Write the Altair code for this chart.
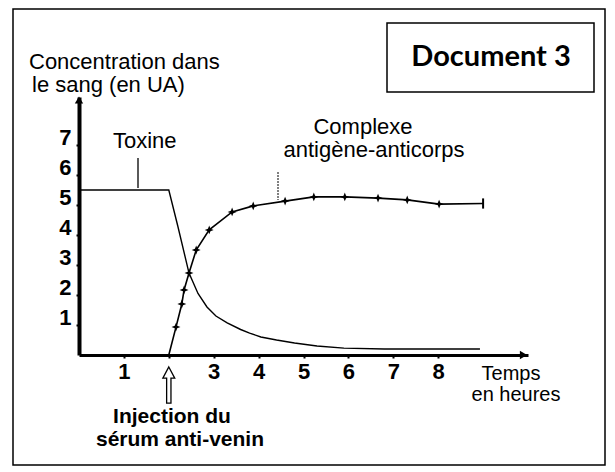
import altair as alt
import pandas as pd

# ---- data ----
tox_t = [0, 2.0, 2.2, 2.45, 2.65, 2.85, 3.05, 3.3, 3.6, 3.8, 4.05, 4.4, 4.8, 5.3, 5.9, 6.8, 7.5, 8.93]
tox_c = [5.5, 5.5, 4.3, 2.73, 2.05, 1.6, 1.3, 1.07, 0.85, 0.73, 0.6, 0.5, 0.4, 0.3, 0.23, 0.2, 0.2, 0.2]

cx_t = [2.0, 2.16, 2.29, 2.34, 2.45, 2.61, 2.90, 3.41, 3.88, 4.59, 5.23, 5.92, 6.66, 7.31, 8.02, 9.0]
cx_c = [0, 0.93, 1.7, 2.17, 2.73, 3.5, 4.17, 4.77, 4.97, 5.13, 5.27, 5.27, 5.23, 5.17, 5.03, 5.05]
cx_marked = [False] + [True] * 14 + [False]

x_ticks = [1, 2, 3, 4, 5, 6, 7, 8]
y_ticks = [1, 2, 3, 4, 5, 6, 7]
injection_time = 2

FONT = "Liberation Sans"
X_DOMAIN = [0, 10]
Y_DOMAIN = [0, 8.6]

tox = pd.DataFrame({"t": tox_t, "c": tox_c})
cx = pd.DataFrame({"t": cx_t, "c": cx_c, "m": cx_marked})
one = pd.DataFrame({"a": [0]})

x_enc = alt.X(
    "t:Q",
    scale=alt.Scale(domain=X_DOMAIN, nice=False, zero=False),
    axis=alt.Axis(
        values=x_ticks, title=None, grid=False,
        domainWidth=3, domainColor="black",
        tickColor="black", tickSize=3, tickWidth=2,
        labelFont=FONT, labelFontSize=22, labelFontWeight="bold",
        labelColor="black", labelPadding=3,
        labelExpr="datum.value == 2 ? '' : datum.label",
    ),
)
y_enc = alt.Y(
    "c:Q",
    scale=alt.Scale(domain=Y_DOMAIN, nice=False, zero=False),
    axis=alt.Axis(
        values=y_ticks, title=None, grid=False,
        domainWidth=4, domainColor="black",
        tickColor="black", tickSize=3, tickWidth=2,
        labelFont=FONT, labelFontSize=22, labelFontWeight="bold",
        labelColor="black", labelPadding=5, labelOffset=-8,
    ),
)

tox_line = alt.Chart(tox).mark_line(color="black", strokeWidth=1.4).encode(x=x_enc, y=y_enc)
cx_line = alt.Chart(cx).mark_line(color="black", strokeWidth=1.6).encode(x=x_enc, y=y_enc)

star = "M0,-1 L0.28,-0.28 L1,0 L0.28,0.28 L0,1 L-0.28,0.28 L-1,0 L-0.28,-0.28 Z"
cx_pts = alt.Chart(cx).transform_filter("datum.m").mark_point(
    shape=star, filled=True, color="black", size=80, opacity=1
).encode(x=x_enc, y=y_enc)

cx_end = alt.Chart(one).mark_rule(color="black", strokeWidth=2).encode(
    x=alt.datum(cx_t[-1]), y=alt.datum(cx_c[-1] - 0.17), y2=alt.datum(cx_c[-1] + 0.17)
)

y_arrow = alt.Chart(one).mark_point(shape="triangle-up", filled=True, color="black", size=70, opacity=1).encode(
    x=alt.datum(0), y=alt.datum(Y_DOMAIN[1] - 0.1)
)
x_arrow = alt.Chart(one).mark_point(shape="triangle-right", filled=True, color="black", size=70, opacity=1).encode(
    x=alt.datum(X_DOMAIN[1] - 0.1), y=alt.datum(0)
)

arrow_path = "M0,-1 L0.33,-0.38 L0.12,-0.38 L0.12,1 L-0.12,1 L-0.12,-0.38 L-0.33,-0.38 Z"
inj_arrow = alt.Chart(one).mark_point(
    shape=arrow_path, filled=True, fill="white", stroke="black", strokeWidth=1.3, size=1300, opacity=1
).encode(x=alt.datum(injection_time), y=alt.value(288))

def txt(s, px, py, size=22, weight="normal", align="center", font=FONT):
    return alt.Chart(one).mark_text(
        text=s, font=font, fontSize=size, fontWeight=weight, align=align,
        baseline="middle", color="black"
    ).encode(x=alt.value(px), y=alt.value(py))

def rule(x1, y1, x2, y2, width=1.2, dash=None):
    kw = dict(color="black", strokeWidth=width)
    if dash:
        kw["strokeDash"] = dash
    return alt.Chart(one).mark_rule(**kw).encode(
        x=alt.value(x1), y=alt.value(y1), x2=alt.value(x2), y2=alt.value(y2)
    )

border = alt.Chart(one).mark_rect(filled=False, stroke="black", strokeWidth=1.5).encode(
    x=alt.value(-66), x2=alt.value(526), y=alt.value(-88), y2=alt.value(368)
)
doc_box = alt.Chart(one).mark_rect(filled=False, stroke="black", strokeWidth=1.5).encode(
    x=alt.value(308), x2=alt.value(515), y=alt.value(-74), y2=alt.value(-5)
)

texts = [
    txt("Concentration dans", -50, -35, align="left"),
    txt("le sang (en UA)", -47, -12, align="left"),
    txt("Document 3", 412, -40, size=29, weight="bold", font="Lato"),
    txt("Toxine", 34, 44, align="left"),
    txt("Complexe", 284, 30),
    txt("antigène-anticorps", 295, 53),
    txt("Temps", 432, 277, size=20),
    txt("en heures", 437, 298, size=20),
    txt("Injection du", 93, 320, size=21, weight="bold"),
    txt("sérum anti-venin", 101, 343, size=21, weight="bold"),
]

leaders = [
    rule(59, 61, 59, 91, width=1.3),
    rule(199, 75, 199, 103, width=1.0, dash=[2, 1]),
]

chart = alt.layer(
    border, doc_box, *leaders, tox_line, cx_line, cx_pts, cx_end,
    y_arrow, x_arrow, inj_arrow, *texts
).properties(
    width=449, height=258,
    autosize=alt.AutoSizeParams(type="none"),
    padding={"left": 71, "top": 89, "right": 78, "bottom": 111},
    background="white",
).configure_view(strokeWidth=0)

chart.save("out.html", embed_options={"renderer": "svg", "actions": False})
